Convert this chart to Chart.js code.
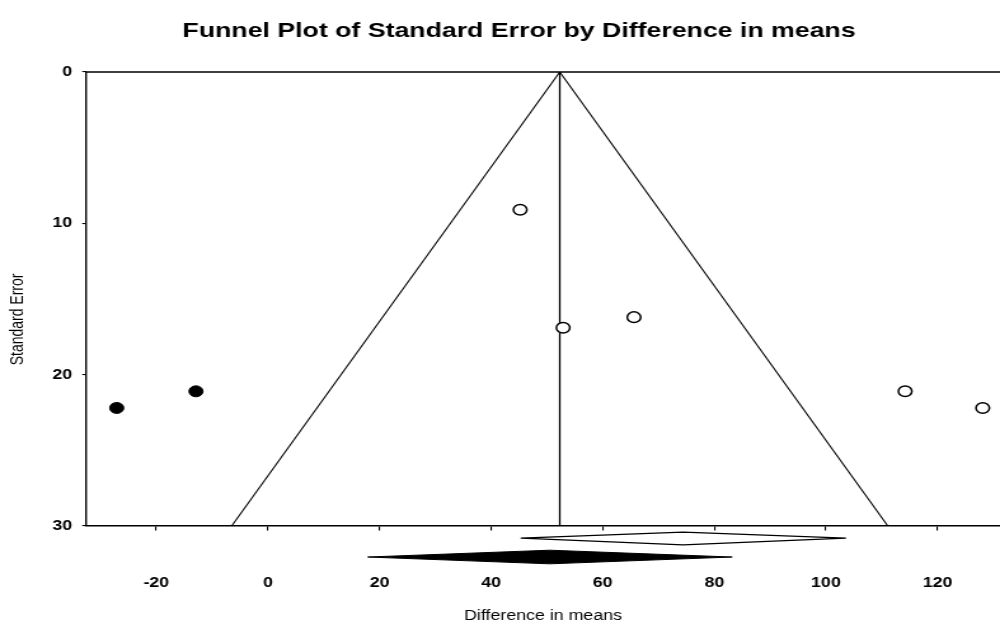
<!DOCTYPE html>
<html>
<head>
<meta charset="utf-8">
<script src="https://cdn.jsdelivr.net/npm/chart.js@4.4.1/dist/chart.umd.min.js"></script>
<style>
  html, body { margin: 0; padding: 0; background: #fff; overflow: hidden; }
  /* The plot is laid out on a narrower canvas and shown widened to the page width */
  #c { display: block; width: 1000px; height: 625px; }
</style>
</head>
<body>
<canvas id="c" width="787" height="625" style="width:1000px;height:625px"></canvas>
<script>
// Observed studies (difference in means, standard error)
const studyDiff = [45.2, 52.9, 65.6, 114.2, 128.1];
const studySE = [9.1, 16.9, 16.2, 21.1, 22.2];

// Studies imputed by trim-and-fill
const imputedDiff = [-27.1, -12.9];
const imputedSE = [22.2, 21.1];

// Pseudo 95% confidence funnel and its centre line
const funnelDiff = [-6.5, 52.3, 111.1];
const funnelSE = [30, 0, 30];
const centreDiff = [52.3, 52.3];
const centreSE = [0, 30];

// Summary diamonds drawn beneath the axis (left tip, top, right tip, bottom, left tip)
const observedDiamondDiff = [45.3, 74.4, 103.6, 74.4, 45.3];
const observedDiamondSE = [30.8, 30.4, 30.8, 31.25, 30.8];
const adjustedDiamondDiff = [17.9, 50.5, 83.2, 50.5, 17.9];
const adjustedDiamondSE = [32.05, 31.6, 32.05, 32.5, 32.05];

// Axis ticks
const xTicks = [-20, 0, 20, 40, 60, 80, 100, 120];
const yTicks = [0, 10, 20, 30];

const pairs = (xs, ys) => xs.map((x, i) => ({ x: x, y: ys[i] }));

Chart.defaults.font.family = '"Liberation Sans", Arial, sans-serif';
Chart.defaults.color = '#000';

// Top edge and left edge of the plot frame (the x axis itself draws the bottom edge)
const frame = {
  id: 'frame',
  afterDatasetsDraw(chart) {
    const { ctx, chartArea, scales } = chart;
    const yTop = scales.y.getPixelForValue(0);
    const yBottom = scales.y.getPixelForValue(30);
    ctx.save();
    ctx.strokeStyle = '#000';
    ctx.lineWidth = 1.4;
    ctx.beginPath();
    ctx.moveTo(chartArea.left, yTop);
    ctx.lineTo(chartArea.right + 2, yTop);
    ctx.moveTo(chartArea.left, yTop);
    ctx.lineTo(chartArea.left, yBottom);
    ctx.stroke();
    ctx.restore();
  }
};

const seMax = 32.7;

new Chart(document.getElementById('c'), {
  type: 'scatter',
  data: {
    datasets: [
      {
        label: 'Observed studies',
        data: pairs(studyDiff, studySE),
        pointStyle: 'circle',
        pointRadius: 5.3,
        pointBorderWidth: 1.5,
        pointBackgroundColor: '#fff',
        pointBorderColor: '#000',
        order: 0
      },
      {
        label: 'Imputed studies',
        data: pairs(imputedDiff, imputedSE),
        pointStyle: 'circle',
        pointRadius: 5.5,
        pointBorderWidth: 1,
        pointBackgroundColor: '#000',
        pointBorderColor: '#000',
        order: 1
      },
      {
        label: 'Funnel',
        data: pairs(funnelDiff, funnelSE),
        showLine: true,
        borderColor: '#000',
        borderWidth: 1.1,
        pointRadius: 0,
        fill: false,
        order: 3
      },
      {
        label: 'Centre',
        data: pairs(centreDiff, centreSE),
        showLine: true,
        borderColor: '#000',
        borderWidth: 1.3,
        pointRadius: 0,
        fill: false,
        order: 2
      },
      {
        label: 'Observed summary',
        data: pairs(observedDiamondDiff, observedDiamondSE),
        showLine: true,
        borderColor: '#000',
        borderWidth: 1.2,
        backgroundColor: '#fff',
        pointRadius: 0,
        fill: 'shape',
        order: 4
      },
      {
        label: 'Adjusted summary',
        data: pairs(adjustedDiamondDiff, adjustedDiamondSE),
        showLine: true,
        borderColor: '#000',
        borderWidth: 1,
        backgroundColor: '#000',
        pointRadius: 0,
        fill: 'shape',
        order: 5
      }
    ]
  },
  options: {
    responsive: false,
    animation: false,
    devicePixelRatio: 1,
    layout: {
      autoPadding: false,
      padding: { left: 30, right: 0, top: 0, bottom: 625 - (72 + (454 / 30) * seMax) }
    },
    plugins: {
      legend: { display: false },
      tooltip: { enabled: false },
      title: {
        display: true,
        text: 'Funnel Plot of Standard Error by Difference in means',
        color: '#000',
        font: { size: 21, weight: 'bold' },
        padding: { top: 18.4, bottom: 28.4 }
      }
    },
    scales: {
      x: {
        type: 'linear',
        position: { y: 30 },
        min: -32.6,
        max: 131.2,
        afterBuildTicks: s => { s.ticks = xTicks.map(v => ({ value: v })); },
        afterFit: s => { s.height = 99; s.paddingLeft = 0; s.paddingRight = 0; },
        ticks: {
          color: '#000',
          font: { size: 14, weight: 'bold' },
          padding: 45,
          maxRotation: 0
        },
        grid: { display: true, drawOnChartArea: false, drawTicks: true, tickLength: 4, color: '#000', lineWidth: 1.1 },
        border: { display: true, color: '#000', width: 1.4 },
        title: {
          display: true,
          text: 'Difference in means',
          color: '#000',
          font: { size: 14 },
          padding: { top: 0, bottom: 0 }
        }
      },
      y: {
        type: 'linear',
        position: 'left',
        reverse: true,
        min: 0,
        max: seMax,
        afterBuildTicks: s => { s.ticks = yTicks.map(v => ({ value: v })); },
        afterFit: s => { s.width = 37.7; s.paddingTop = 0; s.paddingBottom = 0; },
        ticks: {
          color: '#000',
          font: { size: 14, weight: 'bold' },
          padding: 8
        },
        grid: { display: true, drawOnChartArea: false, drawTicks: true, tickLength: 3, color: '#000', lineWidth: 1.1 },
        border: { display: false },
        title: {
          display: true,
          text: 'Standard Error',
          color: '#000',
          font: { size: 14 },
          padding: { top: -24.2, bottom: 0 }
        }
      }
    }
  },
  plugins: [frame]
});
</script>
</body>
</html>
